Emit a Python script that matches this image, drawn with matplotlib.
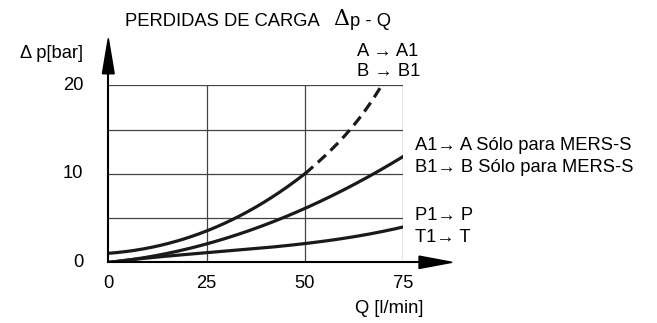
import numpy as np
import matplotlib
matplotlib.use("Agg")
import matplotlib.pyplot as plt
from matplotlib.patches import Polygon

plt.rcParams['font.family'] = ['Liberation Sans', 'DejaVu Sans']

# curve data (Q in l/min, dp in bar)
q_a = [0, 12.5, 25, 37.5, 50]
dp_a = [1.0, 1.9, 3.45, 6.3, 10.0]
q_a_dash = [50, 55, 61.5, 66, 69.5]
dp_a_dash = [10.0, 12.0, 15.0, 17.6, 20.0]

q_a1 = [0, 12.5, 25, 37.5, 50, 62.5, 75]
dp_a1 = [0, 0.8, 1.95, 4.0, 6.1, 8.7, 12.0]

q_p = [0, 12.5, 25, 37.5, 50, 62.5, 75]
dp_p = [0, 0.55, 1.1, 1.6, 2.07, 2.9, 4.0]

x_ticks = [0, 25, 50, 75]
y_ticks = [0, 10, 20]

W, H = 657, 323
fig = plt.figure(figsize=(W / 100, H / 100), dpi=100)
# axes placed by pixel positions of the grid box
x0, x1, y0, y1 = 108.3, 403.3, 262.3, 85.3
ax = fig.add_axes([x0 / W, 1 - y0 / H, (x1 - x0) / W, (y0 - y1) / H])
ax.set_xlim(0, 75)
ax.set_ylim(0, 20)
ax.axis('off')

grid_col = '#444444'
for gx in [25, 50, 75]:
    ax.plot([gx, gx], [0, 20], color=grid_col, lw=0.9)
for gy in [5, 10, 15, 20]:
    ax.plot([0, 75], [gy, gy], color=grid_col, lw=0.9)

def smooth(xs, ys):
    xx = np.linspace(xs[0], xs[-1], 200)
    c = np.polyfit(xs, ys, min(3, len(xs) - 1))
    return xx, np.polyval(c, xx)

curve_col = '#1a1a1a'
lw = 2.3
ax.plot(*smooth(q_a, dp_a), color=curve_col, lw=lw)
ax.plot(*smooth(q_a_dash, dp_a_dash), color=curve_col, lw=lw, ls=(0, (3.4, 2.0)), clip_on=False)
ax.plot(*smooth(q_a1, dp_a1), color=curve_col, lw=lw)
ax.plot(*smooth(q_p, dp_p), color=curve_col, lw=lw)

# axes with arrows
ax.plot([0, 0], [0, 22], color='black', lw=1.5, clip_on=False)
ax.plot([0, 80], [0, 0], color='black', lw=1.5, clip_on=False)
ax.add_patch(Polygon([[-1.5, 21.3], [1.5, 21.3], [0, 25.3]], closed=True,
                     color='black', clip_on=False))
ax.add_patch(Polygon([[79, -0.7], [79, 0.7], [87.4, 0]], closed=True,
                     color='black', clip_on=False))

fs = 13.2
for t in x_ticks:
    ax.text(t, -2.4, str(t), ha='center', va='center', fontsize=fs)
for t in y_ticks:
    ax.text(-6.4, t, str(t), ha='right', va='center', fontsize=fs)

ax.text(-6.4, 23.6, 'Δ p[bar]', ha='right', va='center', fontsize=fs)
ax.text(71.4, -5.2, 'Q [l/min]', ha='center', va='center', fontsize=fs)

fig.text(125 / W, 1 - 21 / H, 'PERDIDAS DE CARGA', ha='left', va='center', fontsize=13.2)
fig.text(333 / W, 1 - 19 / H, 'Δ', ha='left', va='center', fontsize=16,
         family='DejaVu Serif')
fig.text(350 / W, 1 - 21 / H, 'p - Q', ha='left', va='center', fontsize=13.2)

right = [
    (357, 51, 'A → A1'),
    (357, 72, 'B → B1'),
    (415, 145, 'A1→ A Sólo para MERS-S'),
    (415, 168, 'B1→ B Sólo para MERS-S'),
    (415, 216, 'P1→ P'),
    (415, 238, 'T1→ T'),
]
for px, py, s in right:
    fig.text(px / W, 1 - py / H, s, ha='left', va='center', fontsize=fs)

fig.savefig('out.png', dpi=100)
